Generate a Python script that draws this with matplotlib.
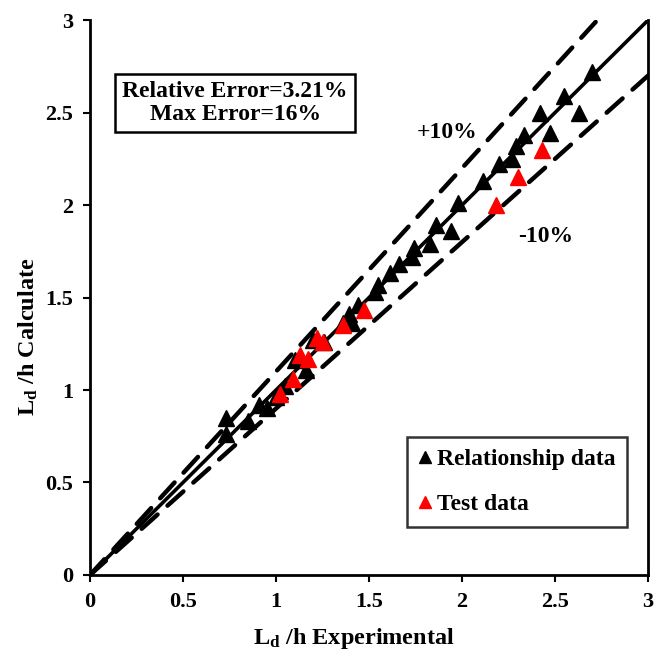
import matplotlib
matplotlib.use('Agg')
import matplotlib.pyplot as plt
import numpy as np

plt.rcParams['font.family'] = 'Liberation Serif'
plt.rcParams['font.weight'] = 'bold'
plt.rcParams['mathtext.fontset'] = 'custom'
plt.rcParams['mathtext.rm'] = 'Liberation Serif:bold'
plt.rcParams['mathtext.it'] = 'Liberation Serif:bold'
plt.rcParams['mathtext.bf'] = 'Liberation Serif:bold'

#%% Data
rel_exp = [0.73, 0.73, 0.85, 0.91, 0.95, 1.00, 1.05, 1.10, 1.16, 1.20,
           1.26, 1.36, 1.39, 1.41, 1.44, 1.53, 1.55, 1.61, 1.66, 1.73,
           1.74, 1.83, 1.86, 1.94, 1.98, 2.11, 2.20, 2.27, 2.29, 2.33,
           2.42, 2.47, 2.55, 2.63, 2.70]
rel_calc = [0.85, 0.76, 0.83, 0.92, 0.90, 0.96, 1.02, 1.16, 1.11, 1.27,
            1.26, 1.36, 1.41, 1.36, 1.46, 1.53, 1.57, 1.63, 1.68, 1.72,
            1.77, 1.79, 1.89, 1.86, 2.01, 2.13, 2.22, 2.25, 2.32, 2.38,
            2.50, 2.39, 2.59, 2.50, 2.72]

test_exp = [1.02, 1.09, 1.13, 1.17, 1.22, 1.25, 1.36, 1.47, 2.18, 2.30, 2.43]
test_calc = [0.98, 1.06, 1.19, 1.17, 1.28, 1.26, 1.35, 1.43, 2.00, 2.15, 2.30]

err_band = 0.10

#%% Plot
fig = plt.figure(figsize=(6.54, 6.5), dpi=100)
ax = fig.add_axes([0.1376, 0.1154, 0.8535, 0.8538])

x_line = np.linspace(0, 3, 50)
ax.plot(x_line, x_line, color='black', lw=2.6, zorder=2)
x_up = np.linspace(0, 3 / (1 + err_band), 50)
ax.plot(x_up, (1 + err_band) * x_up, color='black', lw=3.2,
        dashes=(4.8, 3.0), dash_capstyle='round', zorder=2)
ax.plot(x_line, (1 - err_band) * x_line, color='black', lw=3.2,
        dashes=(4.8, 3.0), dash_capstyle='round', zorder=2)

ax.plot(rel_exp, rel_calc, ls='none', marker='^', ms=11.5,
        color='black', label='Relationship data', zorder=3)
ax.plot(test_exp, test_calc, ls='none', marker='^', ms=11,
        color='red', label='Test data', zorder=4)

ax.set_xlim(0, 3)
ax.set_ylim(0, 3)
ax.set_xticks(np.arange(0, 3.01, 0.5))
ax.set_yticks(np.arange(0, 3.01, 0.5))
ax.set_xticklabels(['0', '0.5', '1', '1.5', '2', '2.5', '3'])
ax.set_yticklabels(['0', '0.5', '1', '1.5', '2', '2.5', '3'])
ax.tick_params(direction='out', length=5, width=1.5, labelsize=16, pad=7)
for lab in ax.get_xticklabels() + ax.get_yticklabels():
    lab.set_fontweight('bold')

ax.spines['top'].set_visible(False)
for sp in ['left', 'bottom', 'right']:
    ax.spines[sp].set_linewidth(2)

ax.set_xlabel('L$_{d}$ /h Experimental', fontsize=17.5, fontweight='bold', labelpad=10)
ax.set_ylabel('L$_{d}$ /h Calculate', fontsize=17.5, fontweight='bold', labelpad=4)
ax.xaxis.label.set_x(0.473)
ax.yaxis.label.set_y(0.43)

ax.text(0.78, 2.55, 'Relative Error=3.21%\nMax Error=16%', fontsize=17,
        fontweight='bold', ha='center', va='center', linespacing=1.1,
        bbox=dict(boxstyle='square,pad=0.3', fc='white', ec='black', lw=1.8))
ax.text(1.92, 2.39, '+10%', fontsize=17, fontweight='bold', ha='center', va='center')
ax.text(2.45, 1.83, '-10%', fontsize=17, fontweight='bold', ha='center', va='center')

leg = ax.legend(loc='lower right', bbox_to_anchor=(0.962, 0.086), fontsize=17,
                frameon=True, fancybox=False, edgecolor='black', markerscale=0.75,
                handlelength=0.5, handletextpad=0.25, labelspacing=1.0,
                borderpad=0.5, borderaxespad=0)
leg.get_frame().set_linewidth(1.8)
for t in leg.get_texts():
    t.set_fontweight('bold')

fig.savefig('out.png', dpi=100)
